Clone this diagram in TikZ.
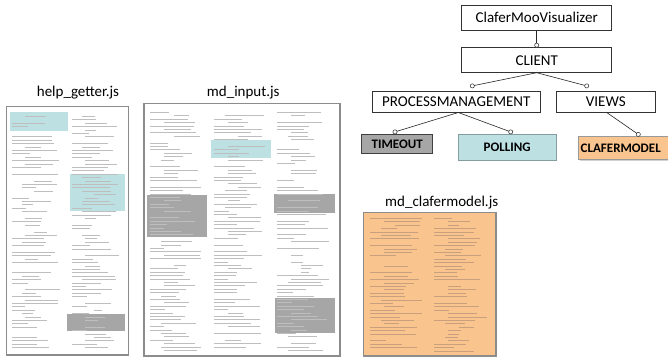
\documentclass[tikz,border=0pt]{standalone}
\usepackage{fontspec}
\setmainfont{Carlito}
\usetikzlibrary{shadows,calc}
\definecolor{hlblue}{HTML}{BDE0E3}
\definecolor{hlgray}{HTML}{A6A6A6}
\definecolor{peach}{HTML}{FAC48F}
\definecolor{codeink}{HTML}{BEBEBE}
\definecolor{peachink}{HTML}{C8A07E}
\tikzset{
  box/.style={draw=black!80, line width=0.6pt, fill=white, inner sep=0pt, font=\fontsize{15}{15}\selectfont},
  tagbox/.style={line width=1pt, inner sep=0pt, font=\bfseries\fontsize{13}{13}\selectfont},
  conn/.style={draw=black!85, line width=0.6pt},
  knob/.style={draw=black!85, fill=white, line width=0.5pt},
  page/.style={draw=black!45, line width=1.2pt},
  codeline/.style={line width=1pt},
  pagetitle/.style={font=\fontsize{15}{15}\selectfont, inner sep=0pt}
}
% x0, ytop, nlines, width, colour
\newcommand\mycodecol[5]{%
  \foreach \i in {0,...,#3}{%
    \pgfmathsetmacro\yy{#2+round(\i*3.4)+0.5}%
    \pgfmathsetmacro\rr{rnd}%
    \pgfmathsetmacro\ind{round((rnd<0.3)*0.25*#4+(rnd<0.15)*0.2*#4)}%
    \pgfmathsetmacro\len{round((0.25+0.7*rnd)*(#4-\ind))}%
    \ifdim\rr pt>0.14pt
      \draw[codeline, draw=#5] (#1+\ind,\yy) -- ++(\len,0);
    \fi
  }%
}
\begin{document}
\begin{tikzpicture}[x=1pt,y=-1pt]
\pgfmathsetseed{7}
\clip (0,0) rectangle (668,358);
\fill[white] (0,0) rectangle (668,358);

% ---------- tree ----------
\node[box, minimum width=150, minimum height=25.7] (cmv) at (536.7,17.8) {ClaferMooVisualizer};
\node[box, minimum width=150, minimum height=25] (client) at (536.7,60.2) {CLIENT};
\node[box, minimum width=167.3, minimum height=21] (pm) at (456.3,102) {PROCESSMANAGEMENT};
\node[box, minimum width=98.3, minimum height=21] (views) at (605.8,102) {VIEWS};
\node[tagbox, draw=black!75, fill=hlgray, minimum width=71, minimum height=19] (timeout) at (397.2,143.8) {TIMEOUT};
\node[tagbox, draw=hlblue!70!black, fill=hlblue, minimum width=97.7, minimum height=25.7] (polling) at (507.2,147.2) {POLLING};
\node[tagbox, draw=black!40, fill=peach, minimum width=100, minimum height=23, anchor=west, drop shadow={shadow xshift=1pt, shadow yshift=-1pt, opacity=0.35}] (cm) at (578.3,148.2) {};
\node[anchor=west, inner sep=0pt, font=\bfseries\fontsize{13}{13}\selectfont] (cmtext) at (580.5,148.2) {CLAFERMODEL};

\coordinate (k1) at ($(client.north)+(0,-2.2)$);
\coordinate (cb) at (536.7,72.7);
\coordinate (k2) at (472.3,85.9);
\coordinate (k3) at (586.7,85.9);
\coordinate (pb) at (458.3,112.5);
\coordinate (k4) at (395,131.9);
\coordinate (k5) at (510.7,131.9);
\coordinate (vb) at (606.7,112.5);
\coordinate (k6) at (638.3,134.4);

\draw[conn] (cmv.south) -- (k1);
\draw[conn] (cb) -- (k2);
\draw[conn] (cb) -- (k3);
\draw[conn] (pb) -- (k4);
\draw[conn] (pb) -- (k5);
\draw[conn] (vb) -- (k6);
\foreach \k in {k1,k2,k3,k4,k5,k6} \draw[knob] (\k) circle (2.1);

% ---------- help_getter.js ----------
\node[pagetitle] (t1) at (78,93) {help\_getter.js};
\fill[hlblue] (10,111.7) rectangle (68.3,131);
\fill[hlblue] (70,174) rectangle (125,211);
\fill[hlgray] (66.7,314.3) rectangle (125,331);
\mycodecol{12}{116}{68}{50}{codeink}
\mycodecol{72}{116}{68}{50}{codeink}
\draw[page] (6.7,106.7) rectangle (128.3,355);

% ---------- md_input.js ----------
\node[pagetitle] (t2) at (243.3,93) {md\_input.js};
\fill[hlblue] (211,140) rectangle (271,158.3);
\fill[hlgray] (147.3,195) rectangle (206.7,236.7);
\fill[hlgray] (274,194) rectangle (335,212.7);
\fill[hlgray] (275,297.7) rectangle (335,333.3);
\mycodecol{150}{112}{70}{54}{codeink}
\mycodecol{214}{112}{70}{54}{codeink}
\mycodecol{277}{112}{70}{54}{codeink}
\draw[page] (144,103.3) rectangle (340,356);

% ---------- md_clafermodel.js ----------
\node[pagetitle] (t3) at (441.7,203) {md\_clafermodel.js};
\fill[peach] (363.3,212.3) rectangle (496,356);
\mycodecol{370}{218}{39}{55}{peachink}
\mycodecol{434}{218}{39}{55}{peachink}
\draw[page] (363.3,212.3) rectangle (496,356);
\end{tikzpicture}
\end{document}
